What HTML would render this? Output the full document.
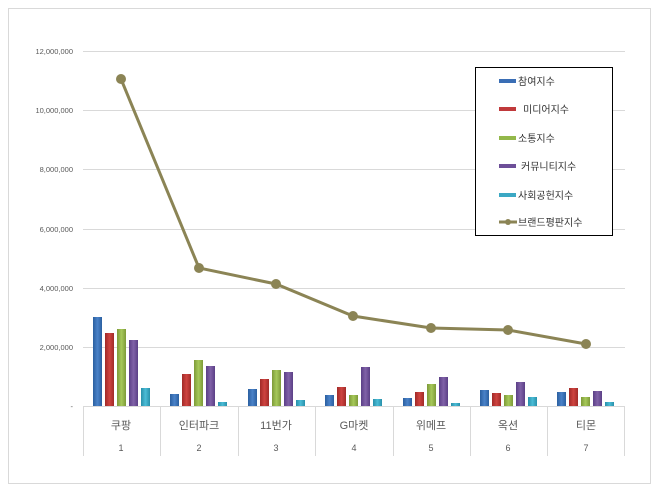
<!DOCTYPE html>
<html><head><meta charset="utf-8"><style>
body{margin:0;background:#fff}
text{font-family:"Liberation Sans","Noto Sans CJK KR",sans-serif}
</style></head><body>
<svg width="660" height="492" viewBox="0 0 660 492" xmlns="http://www.w3.org/2000/svg">
<defs>
<linearGradient id="b" x1="0" x2="1"><stop offset="0" stop-color="#2a5fa0"/><stop offset=".5" stop-color="#4a82c8"/><stop offset="1" stop-color="#2a5fa0"/></linearGradient>
<linearGradient id="r" x1="0" x2="1"><stop offset="0" stop-color="#a02a28"/><stop offset=".5" stop-color="#cf4440"/><stop offset="1" stop-color="#a02a28"/></linearGradient>
<linearGradient id="g" x1="0" x2="1"><stop offset="0" stop-color="#7d9a38"/><stop offset=".5" stop-color="#a6c85a"/><stop offset="1" stop-color="#7d9a38"/></linearGradient>
<linearGradient id="p" x1="0" x2="1"><stop offset="0" stop-color="#5b3f86"/><stop offset=".5" stop-color="#8062a8"/><stop offset="1" stop-color="#5b3f86"/></linearGradient>
<linearGradient id="c" x1="0" x2="1"><stop offset="0" stop-color="#2890aa"/><stop offset=".5" stop-color="#4bbcd6"/><stop offset="1" stop-color="#2890aa"/></linearGradient>
</defs>
<rect x="8.5" y="8.5" width="642" height="475" fill="#fff" stroke="#d9d9d9"/>
<g stroke="#d9d9d9" stroke-width="1">
<line x1="83" x2="625" y1="51.5" y2="51.5"/><line x1="83" x2="625" y1="110.5" y2="110.5"/><line x1="83" x2="625" y1="169.5" y2="169.5"/><line x1="83" x2="625" y1="229.5" y2="229.5"/><line x1="83" x2="625" y1="288.5" y2="288.5"/><line x1="83" x2="625" y1="347.5" y2="347.5"/><line x1="83" x2="625" y1="406.5" y2="406.5"/>
<line x1="83.5" x2="83.5" y1="406" y2="456"/><line x1="160.5" x2="160.5" y1="406" y2="456"/><line x1="238.5" x2="238.5" y1="406" y2="456"/><line x1="315.5" x2="315.5" y1="406" y2="456"/><line x1="393.5" x2="393.5" y1="406" y2="456"/><line x1="470.5" x2="470.5" y1="406" y2="456"/><line x1="547.5" x2="547.5" y1="406" y2="456"/><line x1="624.5" x2="624.5" y1="406" y2="456"/>
</g>
<g font-size="7.5" fill="#595959" text-anchor="end">
<text x="73" y="54">12,000,000</text><text x="73" y="113">10,000,000</text><text x="73" y="172">8,000,000</text><text x="73" y="232">6,000,000</text><text x="73" y="291">4,000,000</text><text x="73" y="350">2,000,000</text><text x="73" y="409">-</text>
</g>
<g font-size="11" fill="#595959" text-anchor="middle">
<text x="121" y="429">쿠팡</text><text x="199" y="429">인터파크</text><text x="276" y="429">11번가</text><text x="354" y="429">G마켓</text><text x="431" y="429">위메프</text><text x="508" y="429">옥션</text><text x="586" y="429">티몬</text>
</g>
<g font-size="9" fill="#595959" text-anchor="middle">
<text x="121" y="451">1</text><text x="199" y="451">2</text><text x="276" y="451">3</text><text x="354" y="451">4</text><text x="431" y="451">5</text><text x="508" y="451">6</text><text x="586" y="451">7</text>
</g>
<g>
<rect x="93" y="317" width="9" height="89" fill="url(#b)"/><rect x="105" y="333" width="9" height="73" fill="url(#r)"/><rect x="117" y="329" width="9" height="77" fill="url(#g)"/><rect x="129" y="340" width="9" height="66" fill="url(#p)"/><rect x="141" y="388" width="9" height="18" fill="url(#c)"/>
<rect x="170" y="394" width="9" height="12" fill="url(#b)"/><rect x="182" y="374" width="9" height="32" fill="url(#r)"/><rect x="194" y="360" width="9" height="46" fill="url(#g)"/><rect x="206" y="366" width="9" height="40" fill="url(#p)"/><rect x="218" y="402" width="9" height="4" fill="url(#c)"/>
<rect x="248" y="389" width="9" height="17" fill="url(#b)"/><rect x="260" y="379" width="9" height="27" fill="url(#r)"/><rect x="272" y="370" width="9" height="36" fill="url(#g)"/><rect x="284" y="372" width="9" height="34" fill="url(#p)"/><rect x="296" y="400" width="9" height="6" fill="url(#c)"/>
<rect x="325" y="395" width="9" height="11" fill="url(#b)"/><rect x="337" y="387" width="9" height="19" fill="url(#r)"/><rect x="349" y="395" width="9" height="11" fill="url(#g)"/><rect x="361" y="367" width="9" height="39" fill="url(#p)"/><rect x="373" y="399" width="9" height="7" fill="url(#c)"/>
<rect x="403" y="398" width="9" height="8" fill="url(#b)"/><rect x="415" y="392" width="9" height="14" fill="url(#r)"/><rect x="427" y="384" width="9" height="22" fill="url(#g)"/><rect x="439" y="377" width="9" height="29" fill="url(#p)"/><rect x="451" y="403" width="9" height="3" fill="url(#c)"/>
<rect x="480" y="390" width="9" height="16" fill="url(#b)"/><rect x="492" y="393" width="9" height="13" fill="url(#r)"/><rect x="504" y="395" width="9" height="11" fill="url(#g)"/><rect x="516" y="382" width="9" height="24" fill="url(#p)"/><rect x="528" y="397" width="9" height="9" fill="url(#c)"/>
<rect x="557" y="392" width="9" height="14" fill="url(#b)"/><rect x="569" y="388" width="9" height="18" fill="url(#r)"/><rect x="581" y="397" width="9" height="9" fill="url(#g)"/><rect x="593" y="391" width="9" height="15" fill="url(#p)"/><rect x="605" y="402" width="9" height="4" fill="url(#c)"/>
</g>
<polyline points="121,79 199,268 276,284 353,316 431,328 508,330 586,344" fill="none" stroke="#8b8455" stroke-width="3"/>
<g fill="#8b8455"><circle cx="121" cy="79" r="5"/><circle cx="199" cy="268" r="5"/><circle cx="276" cy="284" r="5"/><circle cx="353" cy="316" r="5"/><circle cx="431" cy="328" r="5"/><circle cx="508" cy="330" r="5"/><circle cx="586" cy="344" r="5"/></g>
<rect x="475.5" y="67.5" width="137" height="168" fill="#fff" stroke="#000"/>
<g font-size="10" fill="#333">
<rect x="499" y="79" width="17" height="4" fill="#3a6eb5"/><text x="518" y="85">참여지수</text>
<rect x="499" y="107" width="17" height="4" fill="#c0393b"/><text x="523" y="113">미디어지수</text>
<rect x="499" y="136" width="17" height="4" fill="#93b84a"/><text x="518" y="142">소통지수</text>
<rect x="499" y="164" width="17" height="4" fill="#6d4f98"/><text x="521" y="170">커뮤니티지수</text>
<rect x="499" y="193" width="17" height="4" fill="#3ba8c4"/><text x="518" y="199">사회공헌지수</text>
<line x1="499" x2="517" y1="222" y2="222" stroke="#8b8455" stroke-width="3"/><circle cx="508" cy="222" r="3" fill="#8b8455"/><text x="518" y="226">브랜드평판지수</text>
</g>
</svg>
</body></html>
